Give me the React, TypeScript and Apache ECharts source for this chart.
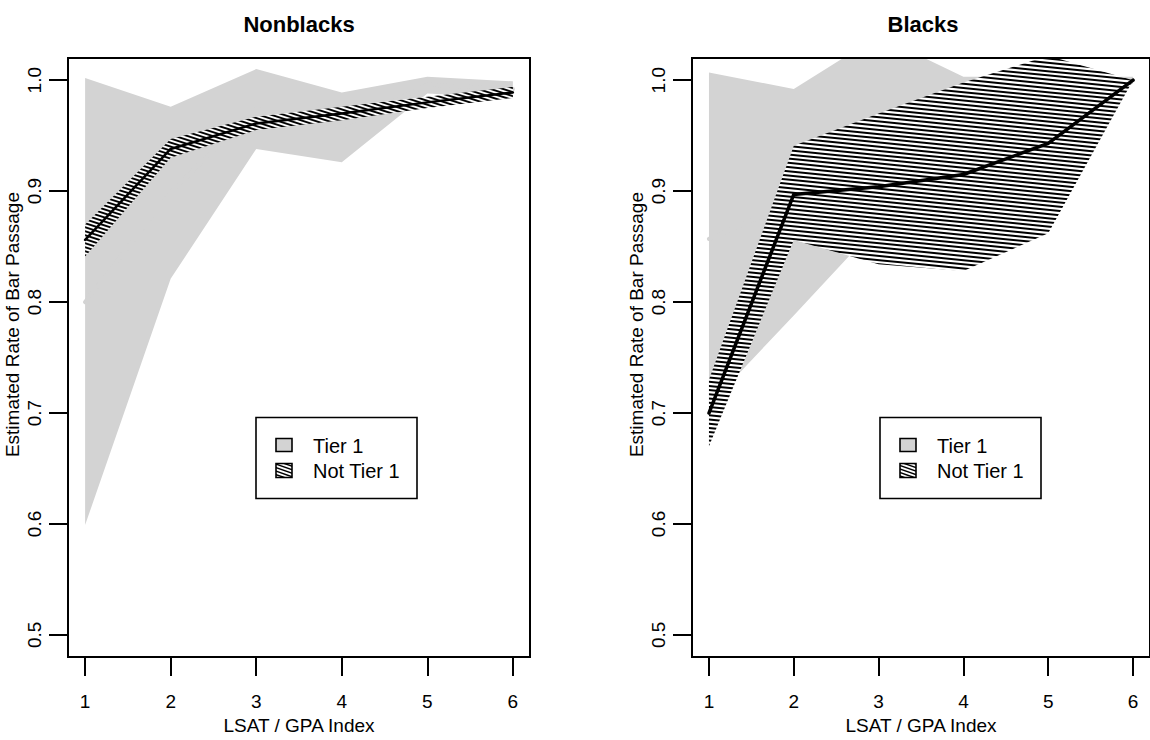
import React, { useEffect, useRef } from "react";
import * as echarts from "echarts";

// ---------- data ----------
const xIndex = [1, 2, 3, 4, 5, 6];
const xTicks = [1, 2, 3, 4, 5, 6];
const yTicks = [0.5, 0.6, 0.7, 0.8, 0.9, 1.0];
const panelTitles = ["Nonblacks", "Blacks"];
const legendLabels = ["Tier 1", "Not Tier 1"];
const xAxisTitle = "LSAT / GPA Index";
const yAxisTitle = "Estimated Rate of Bar Passage";

// Nonblacks
const nbTier1Upper = [1.002, 0.976, 1.01, 0.989, 1.003, 0.999];
const nbTier1Lower = [0.599, 0.821, 0.938, 0.926, 0.988, 0.984];
const nbTier1Est = [0.8, 0.899, 0.974, 0.958, 0.996, 0.992];
const nbOtherUpper = [0.87, 0.947, 0.967, 0.976, 0.985, 0.994];
const nbOtherLower = [0.841, 0.93, 0.955, 0.964, 0.975, 0.984];
const nbOtherEst = [0.856, 0.938, 0.961, 0.97, 0.98, 0.989];

// Blacks
const bTier1Upper = [1.007, 0.992, 1.04, 1.003, 1.003, 1.003];
const bTier1Lower = [0.707, 0.788, 0.87, 0.9, 0.95, 0.997];
const bTier1Est = [0.857, 0.89, 0.955, 0.952, 0.977, 1.0];
const bOtherUpper = [0.73, 0.941, 0.97, 0.998, 1.022, 1.0];
const bOtherLower = [0.67, 0.856, 0.834, 0.828, 0.862, 1.0];
const bOtherEst = [0.7, 0.897, 0.904, 0.915, 0.943, 1.0];

// ---------- styling ----------
const FONT = '"Liberation Sans", Arial, Helvetica, sans-serif';
const GRAY = "#D3D3D3";
const GRID_LEFTS = [68, 692];
const GRID_TOP = 58;
const GRID_W = 462;
const GRID_H = 607;

function hatchPattern(W: number, H: number, period: number, thickness: number) {
  const slope = period / W;
  let lines = "";
  for (let k = -3; k * period <= H + 3 * period; k++) {
    const y0 = k * period;
    lines += `<line x1="${-W}" y1="${y0 - slope * W}" x2="${2 * W}" y2="${y0 + 2 * slope * W}"/>`;
  }
  const svg = `<svg xmlns="http://www.w3.org/2000/svg" width="${W}" height="${H}" viewBox="0 0 ${W} ${H}"><rect x="0" y="0" width="${W}" height="${H}" fill="#ffffff"/><g stroke="#000000" stroke-width="${thickness}">${lines}</g></svg>`;
  return {
    image: "data:image/svg+xml;charset=utf-8," + encodeURIComponent(svg),
    repeat: "repeat",
    imageWidth: W,
    imageHeight: H,
  } as any;
}

function bandSeries(idx: number, upper: number[], lower: number[], fill: any, name: string, z: number) {
  return {
    type: "custom",
    name,
    xAxisIndex: idx,
    yAxisIndex: idx,
    clip: true,
    silent: true,
    z,
    data: [[xIndex[0], lower[0]]],
    renderItem: (params: any, api: any) => {
      const pts: number[][] = [];
      xIndex.forEach((x, i) => pts.push(api.coord([x, upper[i]])));
      for (let i = xIndex.length - 1; i >= 0; i--) pts.push(api.coord([xIndex[i], lower[i]]));
      return { type: "polygon", shape: { points: pts }, style: { fill, lineWidth: 0 } };
    },
  };
}

function lineSeries(idx: number, est: number[], color: string, width: number, name: string, z: number) {
  return {
    type: "line",
    name,
    xAxisIndex: idx,
    yAxisIndex: idx,
    z,
    data: xIndex.map((x, i) => [x, est[i]]),
    symbol: "none",
    showSymbol: false,
    silent: true,
    clip: false,
    itemStyle: { color },
    lineStyle: { color, width, cap: "round", join: "round" },
  };
}

export default function App() {
  const ref = useRef<HTMLDivElement>(null);
  useEffect(() => {
    if (!ref.current) return;
    const chart = echarts.init(ref.current, undefined, { renderer: "svg" });

    const hatchLeft = hatchPattern(12.5, 16, 4, 2);
    const hatchRight = hatchPattern(42, 21, 4.2, 2);
    const hatchLegend = hatchPattern(10, 14, 3.5, 1.6);

    const grids = GRID_LEFTS.map((l) => ({
      left: l,
      top: GRID_TOP,
      width: GRID_W,
      height: GRID_H,
      show: true,
      borderColor: "#000",
      borderWidth: 2,
      backgroundColor: "transparent",
      z: 10,
    }));

    const xAxes = GRID_LEFTS.map((_, i) => ({
      type: "value",
      gridIndex: i,
      min: 0.8,
      max: 6.2,
      name: xAxisTitle,
      nameLocation: "middle",
      nameGap: 54,
      nameTextStyle: { fontFamily: FONT, fontSize: 19, color: "#000" },
      axisLine: { show: false },
      axisTick: { show: true, length: 19, customValues: xTicks, lineStyle: { color: "#000", width: 2 } },
      axisLabel: { show: true, customValues: xTicks, margin: 35, fontFamily: FONT, fontSize: 19, color: "#000" },
      splitLine: { show: false },
      z: 10,
    }));

    const yAxes = GRID_LEFTS.map((_, i) => ({
      type: "value",
      gridIndex: i,
      min: 0.48,
      max: 1.02,
      name: yAxisTitle,
      nameLocation: "middle",
      nameGap: 46,
      nameRotate: 90,
      nameTextStyle: { fontFamily: FONT, fontSize: 19, color: "#000", padding: [0, 0, 0, 66] },
      axisLine: { show: false },
      axisTick: { show: true, length: 19, customValues: yTicks, lineStyle: { color: "#000", width: 2 } },
      axisLabel: {
        show: true,
        customValues: yTicks,
        rotate: 90,
        margin: 24,
        fontFamily: FONT,
        fontSize: 19,
        color: "#000",
        formatter: (v: number) => v.toFixed(1),
      },
      splitLine: { show: false },
      z: 10,
    }));

    const titles = GRID_LEFTS.map((l, i) => ({
      text: panelTitles[i],
      left: l + GRID_W / 2,
      top: 24,
      textAlign: "center",
      textVerticalAlign: "middle",
      padding: 0,
      textStyle: { fontFamily: FONT, fontSize: 22, fontWeight: "bold", color: "#000" },
    }));

    const legendGraphics: any[] = [];
    GRID_LEFTS.forEach((l) => {
      const lx = l + 188;
      const ly = 417.5;
      legendGraphics.push(
        { type: "rect", shape: { x: lx, y: ly, width: 161, height: 81 }, style: { fill: "#fff", stroke: "#000", lineWidth: 1.6 }, z: 100 },
        { type: "rect", shape: { x: lx + 20, y: ly + 21, width: 16, height: 13 }, style: { fill: GRAY, stroke: "#000", lineWidth: 1.6 }, z: 101 },
        { type: "rect", shape: { x: lx + 20, y: ly + 46, width: 16, height: 14 }, style: { fill: hatchLegend, stroke: "#000", lineWidth: 1.6 }, z: 101 },
        { type: "text", x: lx + 57, y: ly + 28, style: { text: legendLabels[0], fontFamily: FONT, fontSize: 20, fill: "#000", verticalAlign: "middle" }, z: 101 },
        { type: "text", x: lx + 57, y: ly + 53.5, style: { text: legendLabels[1], fontFamily: FONT, fontSize: 20, fill: "#000", verticalAlign: "middle" }, z: 101 }
      );
    });

    const series = [
      bandSeries(0, nbTier1Upper, nbTier1Lower, GRAY, "Tier 1", 1),
      lineSeries(0, nbTier1Est, GRAY, 4, "Tier 1", 2),
      bandSeries(0, nbOtherUpper, nbOtherLower, hatchLeft, "Not Tier 1", 3),
      lineSeries(0, nbOtherEst, "#000", 2.5, "Not Tier 1", 4),
      bandSeries(1, bTier1Upper, bTier1Lower, GRAY, "Tier 1", 1),
      lineSeries(1, bTier1Est, GRAY, 4, "Tier 1", 2),
      bandSeries(1, bOtherUpper, bOtherLower, hatchRight, "Not Tier 1", 3),
      lineSeries(1, bOtherEst, "#000", 3.5, "Not Tier 1", 4),
    ];

    chart.setOption({
      animation: false,
      backgroundColor: "#fff",
      title: titles,
      grid: grids,
      xAxis: xAxes,
      yAxis: yAxes,
      series,
      graphic: legendGraphics,
    } as any);

    return () => chart.dispose();
  }, []);

  return (
    <div
      ref={ref}
      style={{ position: "absolute", left: 0, top: 0, width: 1150, height: 740, overflow: "hidden", background: "#fff" }}
    />
  );
}
